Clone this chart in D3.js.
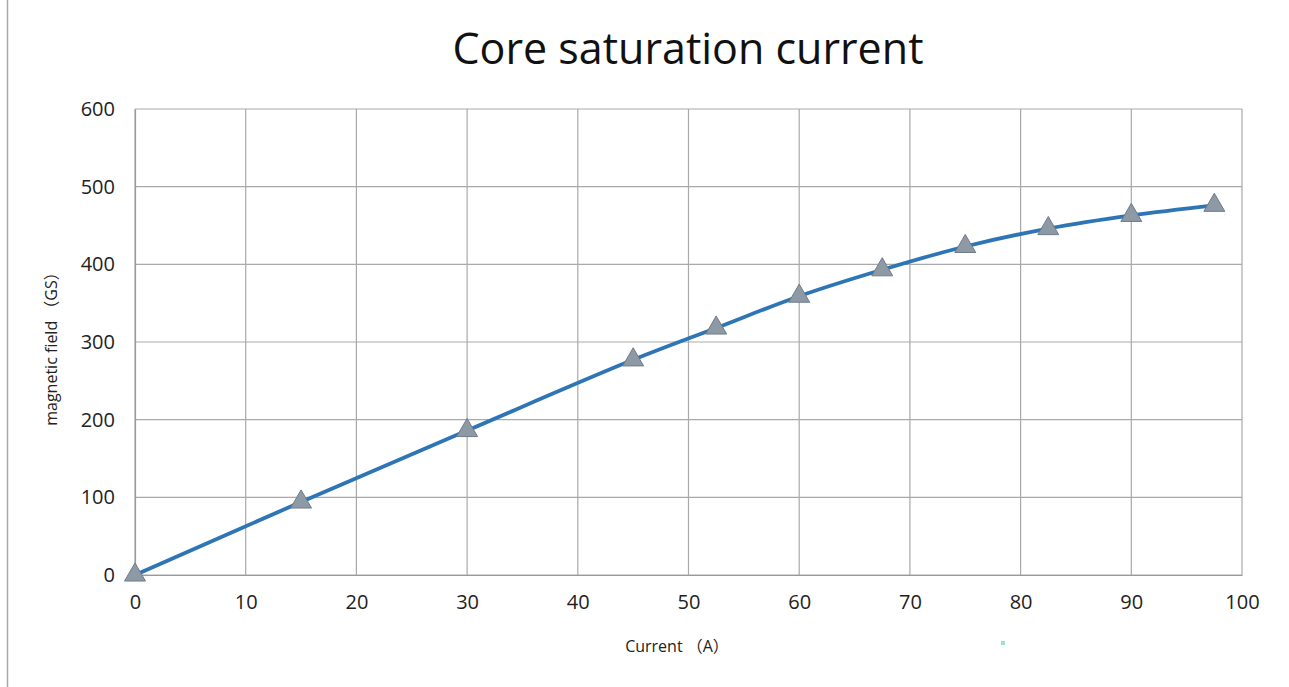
<!DOCTYPE html>
<html>
<head>
<meta charset="utf-8">
<script src="https://cdn.jsdelivr.net/npm/d3@7"></script>
<style>
  body { margin: 0; background: #fff; }
  svg { display: block; font-family: "Open Sans", "Noto Sans", sans-serif; }
</style>
</head>
<body>
<svg width="1289" height="687"></svg>
<script>
const currentA = [0, 15, 30, 45, 52.5, 60, 67.5, 75, 82.5, 90, 97.5];
const fieldGS = [0, 94, 186, 277, 318, 359, 393, 423, 446, 463, 476];
const xTicks = [0, 10, 20, 30, 40, 50, 60, 70, 80, 90, 100];
const yTicks = [0, 100, 200, 300, 400, 500, 600];

const svg = d3.select("svg");
const margin = { top: 109, right: 47, bottom: 112, left: 135 };
const width = +svg.attr("width") - margin.left - margin.right;
const height = +svg.attr("height") - margin.top - margin.bottom;

// left border of the picture
svg.append("line")
  .attr("x1", 7.5).attr("x2", 7.5).attr("y1", 0).attr("y2", 687)
  .attr("stroke", "#a6a6a6").attr("stroke-width", 1.5);

const g = svg.append("g").attr("transform", `translate(${margin.left},${margin.top})`);

const x = d3.scaleLinear().domain([0, 100]).range([0, width]);
const y = d3.scaleLinear().domain([0, 600]).range([height, 0]);

// grid
g.append("g")
  .selectAll("line")
  .data(xTicks)
  .join("line")
  .attr("x1", d => x(d)).attr("x2", d => x(d))
  .attr("y1", 0).attr("y2", height)
  .attr("stroke", "#a9a9a9").attr("stroke-width", 1.2);

g.append("g")
  .selectAll("line")
  .data(yTicks)
  .join("line")
  .attr("x1", 0).attr("x2", width)
  .attr("y1", d => y(d)).attr("y2", d => y(d))
  .attr("stroke", "#a9a9a9").attr("stroke-width", 1.2);

// axes
const xAxis = g.append("g")
  .attr("transform", `translate(0,${height})`)
  .call(d3.axisBottom(x).tickValues(xTicks).tickSize(0).tickPadding(20));
xAxis.select(".domain").attr("stroke", "#999").attr("stroke-width", 1.2);
xAxis.selectAll("text").attr("font-size", 20).attr("fill", "#222")
  .attr("font-family", "Open Sans, Noto Sans, sans-serif");

const yAxis = g.append("g")
  .call(d3.axisLeft(y).tickValues(yTicks).tickSize(0).tickPadding(20));
yAxis.select(".domain").attr("stroke", "#999").attr("stroke-width", 1.2);
yAxis.selectAll("text").attr("font-size", 20).attr("fill", "#222")
  .attr("font-family", "Open Sans, Noto Sans, sans-serif");

// curve
const line = d3.line()
  .x((d, i) => x(currentA[i]))
  .y(d => y(d))
  .curve(d3.curveCatmullRom.alpha(0.5));

g.append("path")
  .datum(fieldGS)
  .attr("d", line)
  .attr("fill", "none")
  .attr("stroke", "#2e75b6")
  .attr("stroke-width", 3.8);

// triangle markers
const tri = d3.symbol().type(d3.symbolTriangle).size(190);
g.selectAll(".pt")
  .data(fieldGS)
  .join("path")
  .attr("class", "pt")
  .attr("transform", (d, i) => `translate(${x(currentA[i])},${y(d)})`)
  .attr("d", tri)
  .attr("fill", "#8d9aa6")
  .attr("stroke", "#6f7c88")
  .attr("stroke-width", 1);

// titles
svg.append("text")
  .attr("x", 688).attr("y", 64)
  .attr("text-anchor", "middle")
  .attr("font-size", 43)
  .attr("fill", "#111")
  .text("Core saturation current");

svg.append("text")
  .attr("x", 677).attr("y", 652)
  .attr("text-anchor", "middle")
  .attr("font-size", 16)
  .attr("fill", "#222")
  .attr("font-family", "Open Sans, Noto Sans CJK SC, sans-serif")
  .text("Current （A）");

svg.append("text")
  .attr("transform", "translate(57,345) rotate(-90)")
  .attr("text-anchor", "middle")
  .attr("font-size", 16)
  .attr("fill", "#222")
  .attr("font-family", "Open Sans, Noto Sans CJK SC, sans-serif")
  .text("magnetic field （GS）");

// small stray mark in the original image
svg.append("rect")
  .attr("x", 1001).attr("y", 641).attr("width", 4).attr("height", 4)
  .attr("fill", "#9fe3cf");
</script>
</body>
</html>
